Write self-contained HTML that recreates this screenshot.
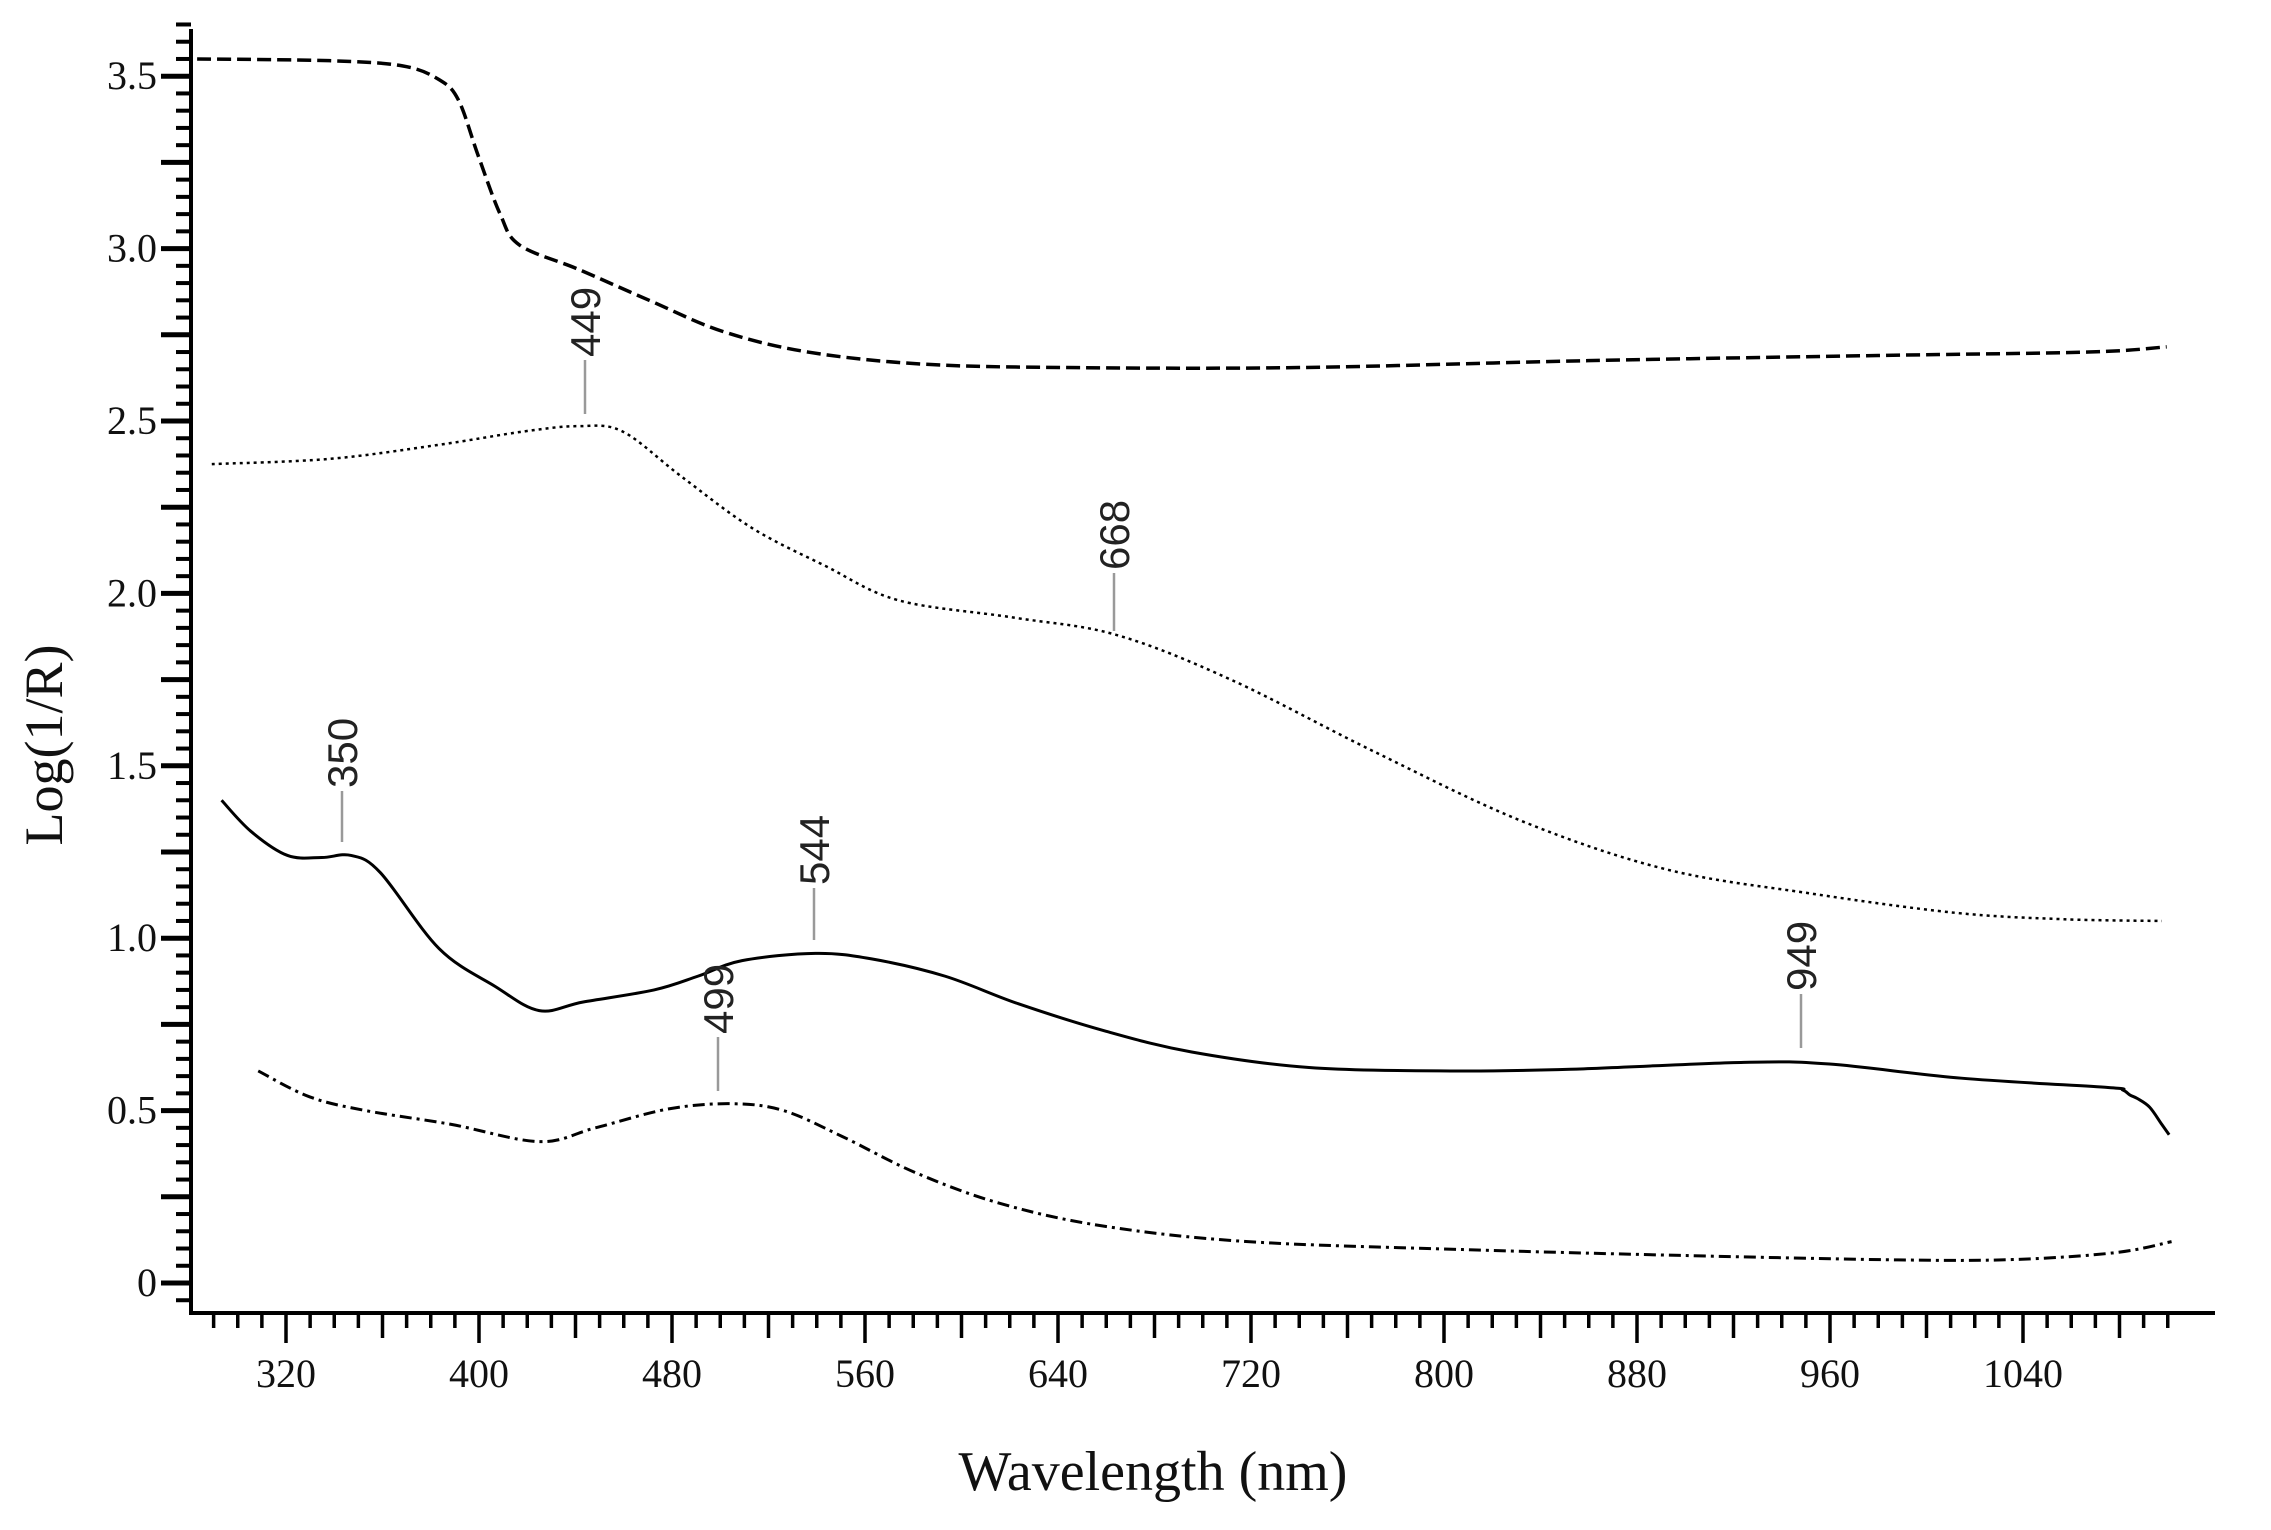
<!DOCTYPE html>
<html><head><meta charset="utf-8"><style>html,body{margin:0;padding:0;background:#fff}svg{display:block}</style></head>
<body>
<svg id="s" xmlns="http://www.w3.org/2000/svg" width="2271" height="1530" viewBox="0 0 2271 1530">
<rect width="2271" height="1530" fill="#fff"/>
<g id="ax" stroke="#000" fill="none"></g>
<g id="curves" fill="none" stroke="#000"></g>
<g id="ann" stroke="#999" stroke-width="2.5"></g>
<g font-family="Liberation Serif, serif" font-size="40" fill="#111" id="lbl"></g>
<text x="1153" y="1490" font-family="Liberation Serif, serif" font-size="56" text-anchor="middle" fill="#111">Wavelength (nm)</text>
<text transform="translate(62,745) rotate(-90)" font-family="Liberation Serif, serif" font-size="54" text-anchor="middle" fill="#111">Log(1/R)</text>
</svg>
<script>
const NS="http://www.w3.org/2000/svg";
const X=l=>286+(l-320)*2.4125, Y=v=>1283-v*344.8;
const Xc=l=>X(320+(l-320)*1.0129-2.4);
function el(p,t,a,txt){const e=document.createElementNS(NS,t);for(const k in a)e.setAttribute(k,a[k]);if(txt!==undefined)e.textContent=txt;p.appendChild(e);return e;}
const ax=document.getElementById('ax'),lbl=document.getElementById('lbl');
el(ax,'path',{d:`M191 29 V1313 H2215`,'stroke-width':4});
for(let i=-1;i<=73;i++){const v=i*0.05,y=Y(v);const big=(i%5===0);el(ax,'line',{x1:big?161:176,x2:191,y1:y,y2:y,'stroke-width':big?5:4});}
[0,0.5,1,1.5,2,2.5,3,3.5].forEach(v=>el(lbl,'text',{x:157,y:Y(v)+13,'text-anchor':'end'},v===0?'0':v.toFixed(1)));
for(let l=290;l<=1100;l+=10){const x=X(l);let len=(l%80===0)?30:(l%40===0)?25:15;el(ax,'line',{x1:x,x2:x,y1:1313,y2:1313+len,'stroke-width':3.5});}
for(let l=320;l<=1040;l+=80)el(lbl,'text',{x:X(l),y:1387,'text-anchor':'middle'},String(l));
function path(pts){const P=pts.map(([l,v])=>[Xc(l),Y(v)]);let d=`M${P[0][0]},${P[0][1]}`;for(let i=0;i<P.length-1;i++){const p0=P[i-1]||P[i],p1=P[i],p2=P[i+1],p3=P[i+2]||P[i+1];d+=` C${p1[0]+(p2[0]-p0[0])/6},${p1[1]+(p2[1]-p0[1])/6} ${p2[0]-(p3[0]-p1[0])/6},${p2[1]-(p3[1]-p1[1])/6} ${p2[0]},${p2[1]}`;}return d;}
const cv=document.getElementById('curves');
const dashed=[[286,3.55],[340,3.545],[370,3.53],[385,3.49],[393,3.43],[401,3.27],[410,3.10],[418,3.01],[442,2.94],[471,2.85],[501,2.76],[536,2.70],[583,2.665],[642,2.655],[737,2.655],[855,2.675],[974,2.69],[1060,2.70],[1092,2.715]];
const dotted=[[292,2.375],[340,2.39],[384,2.43],[420,2.47],[442,2.485],[460,2.47],[484,2.34],[513,2.19],[543,2.08],[573,1.98],[620,1.93],[662,1.88],[709,1.75],[768,1.54],[828,1.34],[887,1.20],[946,1.13],[1005,1.074],[1050,1.055],[1090,1.05]];
const solid=[[296,1.40],[308,1.31],[323,1.24],[337,1.234],[349,1.24],[361,1.19],[385,0.97],[408,0.86],[426,0.79],[444,0.815],[473,0.85],[491,0.89],[509,0.935],[539,0.956],[562,0.94],[592,0.89],[622,0.81],[658,0.73],[693,0.67],[741,0.625],[800,0.615],[848,0.62],[919,0.64],[954,0.635],[1008,0.594],[1068,0.567],[1074,0.56],[1077,0.545],[1080,0.535],[1085,0.51],[1090,0.46],[1093,0.43]];
const dashdot=[[311,0.615],[332,0.54],[355,0.50],[390,0.46],[426,0.41],[449,0.45],[479,0.505],[505,0.52],[526,0.50],[550,0.425],[580,0.32],[615,0.23],[657,0.165],[716,0.12],[804,0.097],[893,0.08],[982,0.067],[1029,0.068],[1071,0.088],[1094,0.12]];
el(cv,'path',{d:path(dashed),'stroke-width':3.5,'stroke-dasharray':'14 6'});
el(cv,'path',{d:path(dotted),'stroke-width':2.5,'stroke-dasharray':'3 4'});
el(cv,'path',{d:path(solid),'stroke-width':3});
el(cv,'path',{d:path(dashdot),'stroke-width':3,'stroke-dasharray':'12 5 3 5'});
const ann=document.getElementById('ann');
[[585,360,414,'449'],[1114,573,631,'668'],[342,791,842,'350'],[814,888,940,'544'],[718,1037,1091,'499'],[1801,994,1048,'949']].forEach(([x,y1,y2,t])=>{
el(ann,'line',{x1:x,x2:x,y1:y1,y2:y2});
el(lbl,'text',{transform:`translate(${x+15},${y1-3}) rotate(-90)`,'font-family':'Liberation Sans, sans-serif','font-size':42,fill:'#222'},t);});
</script>
</body></html>
